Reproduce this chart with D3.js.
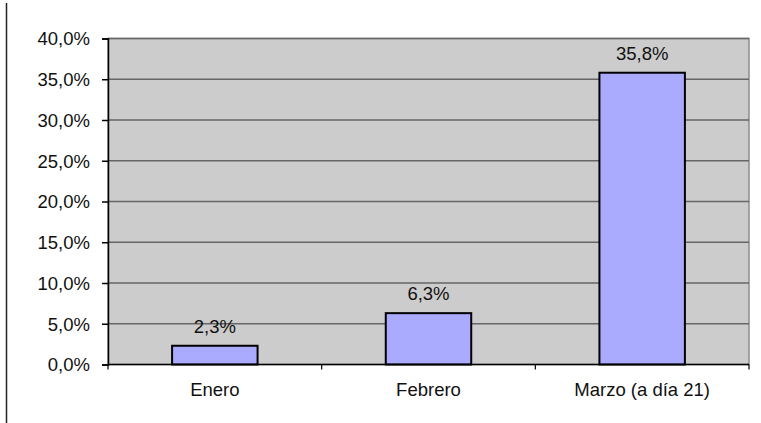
<!DOCTYPE html>
<html>
<head>
<meta charset="utf-8">
<script src="https://cdn.jsdelivr.net/npm/d3@7"></script>
<style>
  body { margin: 0; background: #fff; }
  svg text { font-family: "Liberation Sans", Arial, sans-serif; font-size: 18.5px; fill: #111; }
</style>
</head>
<body>
<div class="chart"></div>
<script>
var categories = ["Enero", "Febrero", "Marzo (a día 21)"];
var values = [2.3, 6.3, 35.8];
var valueLabels = ["2,3%", "6,3%", "35,8%"];
var yTicks = [0, 5, 10, 15, 20, 25, 30, 35, 40];

var W = 761, H = 423;
var margin = {top: 38.5, right: 12, bottom: 58.5, left: 108},
  width = W - margin.left - margin.right,
  height = H - margin.top - margin.bottom;

var root = d3.select(".chart")
  .append("svg")
  .attr("width", W)
  .attr("height", H);

// stray border line on the far left
root.append("line")
  .attr("x1", 6.5).attr("x2", 6.5)
  .attr("y1", 3).attr("y2", H)
  .style("stroke", "#222")
  .style("stroke-width", 1.5);

var svg = root.append("g")
  .attr("transform", "translate(" + margin.left + "," + margin.top + ")");

var x = d3.scaleBand()
  .domain(categories)
  .range([0, width])
  .paddingInner(0.6)
  .paddingOuter(0.3);

var y = d3.scaleLinear()
  .domain([0, 40])
  .range([height, 0]);

// plot background
svg.append("rect")
  .attr("width", width)
  .attr("height", height)
  .style("fill", "#cccccc")
  .style("stroke", "#8c8c8c")
  .style("stroke-width", 1.5);

// gridlines
svg.selectAll(".grid")
  .data(yTicks.filter(d => d > 0))
  .enter()
  .append("line")
  .attr("class", "grid")
  .attr("x1", 0).attr("x2", width)
  .attr("y1", d => y(d)).attr("y2", d => y(d))
  .style("stroke", "#666")
  .style("stroke-width", 1.5);

// bars
svg.selectAll(".bar")
  .data(values)
  .enter()
  .append("rect")
  .attr("class", "bar")
  .attr("x", (d, i) => x(categories[i]))
  .attr("width", x.bandwidth())
  .attr("y", d => y(d))
  .attr("height", d => height - y(d))
  .style("fill", "#aaaaff")
  .style("stroke", "#000")
  .style("stroke-width", 2);

// value labels
svg.selectAll(".vlabel")
  .data(values)
  .enter()
  .append("text")
  .attr("class", "vlabel")
  .attr("x", (d, i) => x(categories[i]) + x.bandwidth() / 2)
  .attr("y", d => y(d) - 13)
  .attr("text-anchor", "middle")
  .text((d, i) => valueLabels[i]);

// y axis
var axisY = svg.append("g")
  .call(d3.axisLeft(y).tickValues(yTicks).tickSize(6).tickPadding(12)
    .tickFormat(d => d.toFixed(1).replace(".", ",") + "%"));
axisY.select(".domain").style("stroke", "#000").style("stroke-width", 1.5);
axisY.selectAll(".tick line").style("stroke", "#000").style("stroke-width", 1.5);
axisY.selectAll("text").style("font-size", "18.5px").attr("dy", "0.35em");

// x axis: ticks sit on the category boundaries
var bounds = [0, width / 3, 2 * width / 3, width];
var axisX = svg.append("g")
  .attr("transform", "translate(0," + height + ")");
axisX.append("line")
  .attr("x1", 0).attr("x2", width)
  .style("stroke", "#000").style("stroke-width", 1.5);
axisX.selectAll(".xt")
  .data(bounds)
  .enter()
  .append("line")
  .attr("x1", d => d).attr("x2", d => d)
  .attr("y1", 0).attr("y2", 5)
  .style("stroke", "#000").style("stroke-width", 1.2);
axisX.selectAll(".xl")
  .data(categories)
  .enter()
  .append("text")
  .attr("x", d => x(d) + x.bandwidth() / 2)
  .attr("y", 31)
  .attr("text-anchor", "middle")
  .text(d => d);
</script>
</body>
</html>
